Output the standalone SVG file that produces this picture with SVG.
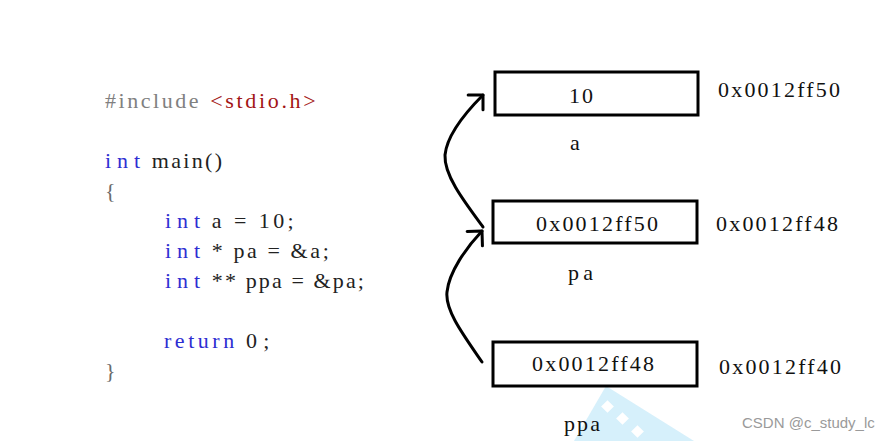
<svg xmlns="http://www.w3.org/2000/svg" width="890" height="441" viewBox="0 0 890 441">
<style>
.code{font-family:"Liberation Serif","Times New Roman",serif;font-size:22px;fill:#222}
.kw{fill:#2e2ed2}
.pp{fill:#808080}
.inc{fill:#a31515}
.br{fill:#6a6a6a}
.lbl{font-family:"Liberation Serif","Times New Roman",serif;font-size:22px;fill:#111}
.box{fill:#fff;stroke:#000;stroke-width:3}
.arr{fill:none;stroke:#000;stroke-width:3;stroke-linecap:round}
.wm{font-family:"Liberation Sans",Arial,sans-serif;font-size:15px;fill:#9a9a9a}
</style>
<defs>
<marker id="ah" markerUnits="userSpaceOnUse" viewBox="-15 -15 30 30" markerWidth="30" markerHeight="30" refX="0" refY="0" orient="auto" overflow="visible">
<path d="M-10.5,-10.5 L0,0 L-10.5,10.5" fill="none" stroke="#000" stroke-width="3" stroke-linecap="round" stroke-linejoin="round"/>
</marker>
</defs>
<rect width="890" height="441" fill="#fff"/>
<g id="watermark-logo">
<polygon points="606,386 694,441 574,441" fill="#d6f0fb"/>
<rect x="603" y="402" width="9" height="9" fill="#fff" transform="rotate(45 607.5 406.5)"/>
<rect x="618" y="414" width="9" height="9" fill="#fff" transform="rotate(45 622.5 418.5)"/>
<rect x="633" y="427" width="9" height="9" fill="#fff" transform="rotate(45 637.5 431.5)"/>
</g>
<g id="code">
<text class="code pp" x="105" y="108" textLength="93.6" lengthAdjust="spacing">#include</text>
<text class="code inc" x="210.3" y="108" textLength="105.3" lengthAdjust="spacing">&lt;stdio.h&gt;</text>
<text class="code kw" x="105" y="168" textLength="35.1" lengthAdjust="spacing">int</text>
<text class="code" x="151.8" y="168" textLength="70.2" lengthAdjust="spacing">main()</text>
<text class="code br" x="105" y="198">{</text>
<text class="code kw" x="165" y="228" textLength="35.1" lengthAdjust="spacing">int</text>
<text class="code" x="211.8" y="228" textLength="81.9" lengthAdjust="spacing">a = 10;</text>
<text class="code kw" x="165" y="258" textLength="35.1" lengthAdjust="spacing">int</text>
<text class="code" x="211.8" y="258" textLength="117" lengthAdjust="spacing">* pa = &amp;a;</text>
<text class="code kw" x="165" y="288" textLength="35.1" lengthAdjust="spacing">int</text>
<text class="code" x="211.8" y="288" textLength="152.1" lengthAdjust="spacing">** ppa = &amp;pa;</text>
<text class="code kw" x="164" y="348" textLength="70.2" lengthAdjust="spacing">return</text>
<text class="code" x="245.9" y="348" textLength="23.4" lengthAdjust="spacing">0;</text>
<text class="code br" x="105" y="378">}</text>
</g>
<g id="node-a">
<rect class="box" x="495" y="72" width="203" height="43"/>
<text class="lbl" x="569" y="103" textLength="24" lengthAdjust="spacing">10</text>
<text class="lbl" x="718" y="97" textLength="122" lengthAdjust="spacing">0x0012ff50</text>
<text class="lbl" x="570" y="150">a</text>
</g>
<g id="node-pa">
<rect class="box" x="493" y="201" width="204" height="42"/>
<text class="lbl" x="536" y="231" textLength="122" lengthAdjust="spacing">0x0012ff50</text>
<text class="lbl" x="716" y="231" textLength="122" lengthAdjust="spacing">0x0012ff48</text>
<text class="lbl" x="568" y="280" textLength="25" lengthAdjust="spacing">pa</text>
</g>
<g id="node-ppa">
<rect class="box" x="493" y="342" width="204" height="44"/>
<text class="lbl" x="532" y="371" textLength="122" lengthAdjust="spacing">0x0012ff48</text>
<text class="lbl" x="719" y="374" textLength="122" lengthAdjust="spacing">0x0012ff40</text>
<text class="lbl" x="564" y="431" textLength="36" lengthAdjust="spacing">ppa</text>
</g>
<g id="connectors">
<path class="arr" d="M482,362 C462,333 445,310 447,292 C449,272 466,248 482,231" marker-end="url(#ah)"/>
<path class="arr" d="M483,227 C463,200 444,175 445,155 C447,135 466,112 483,95" marker-end="url(#ah)"/>
</g>
<text class="wm" x="742" y="428">CSDN @c_study_lc</text>
</svg>
